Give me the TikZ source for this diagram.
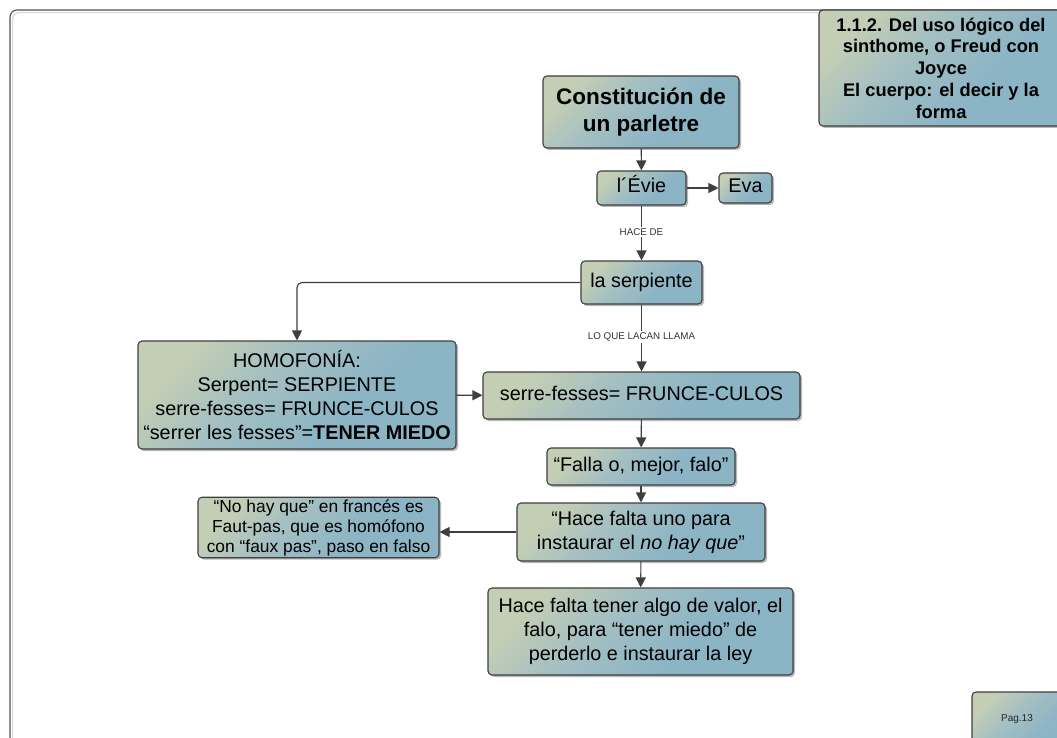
\documentclass[tikz,border=0pt]{standalone}
\usepackage{fontspec}
\setmainfont{Liberation Sans}
\usetikzlibrary{arrows.meta,shadows,positioning}

\definecolor{bxA}{HTML}{C4CEB4}
\definecolor{bxB}{HTML}{A3BFC2}
\definecolor{bxC}{HTML}{8BB4C5}
\definecolor{edge}{HTML}{3F3F3F}
\definecolor{frameline}{HTML}{505050}

% diagonal wash: pale green top-left corner fading to blue-grey
\pgfdeclarehorizontalshading{boxwash}{100bp}{%
  color(0bp)=(bxA); color(25bp)=(bxA); color(42bp)=(bxB);
  color(62bp)=(bxC); color(100bp)=(bxC)}

\tikzset{
  card/.style={
    draw=edge, line width=1.1pt, rounded corners=4pt,
    shading=boxwash, shading angle=-45,
    drop shadow={shadow xshift=2pt, shadow yshift=-2pt,
                 fill=black, opacity=0.28},
    align=center, inner sep=2pt, text=black},
  body/.style={font=\fontsize{19.8}{24}\selectfont},
  oneline/.style={text height=14.5pt, text depth=4.5pt},
  flow/.style={draw=edge, line width=1.1pt,
               -{Triangle[length=10pt,width=10pt]}},
  tag/.style={fill=white, inner sep=1.5pt,
              font=\fontsize{9.8}{11}\selectfont, text=black!80}
}

\begin{document}
\begin{tikzpicture}[x=1pt,y=-1pt]
\clip (0,0) rectangle (1057,738);
\fill[white] (0,0) rectangle (1057,738);

% page frame
\draw[black!15, line width=1.2pt, rounded corners=7pt]
  (12.5,12.5) rectangle (1085,765);
\draw[frameline, line width=1.1pt, rounded corners=7pt]
  (10,10) rectangle (1083,763);

% heading card
\node[card, minimum width=244pt, minimum height=116pt,
      font=\bfseries\fontsize{18.3}{21.8}\selectfont]
  (head) at (941,68)
  {1.1.2. Del uso lógico del\\sinthome, o Freud con\\Joyce\\El cuerpo: el decir y la\\forma};

% main column
\node[card, minimum width=196pt, minimum height=72pt,
      font=\bfseries\fontsize{22.5}{26.5}\selectfont]
  (const) at (641,112) {Constitución de\\un parletre};
\node[card, body, oneline, minimum width=89pt, minimum height=34pt]
  (evie) at (641.5,188) {l´Évie};
\node[card, body, oneline, minimum width=53pt, minimum height=30pt]
  (eva) at (745.5,188) {Eva};
\node[card, body, oneline, minimum width=121pt, minimum height=43pt]
  (serp) at (641.5,282.5) {la serpiente};
\node[card, body, minimum width=318pt, minimum height=108pt]
  (homo) at (297,395)
  {HOMOFONÍA:\\Serpent= SERPIENTE\\serre-fesses= FRUNCE-CULOS\\“serrer les fesses”=\textbf{TENER MIEDO}};
\node[card, body, oneline, minimum width=317pt, minimum height=47pt]
  (serre) at (641.5,395.5) {serre-fesses= FRUNCE-CULOS};
\node[card, body, oneline, minimum width=188pt, minimum height=37pt]
  (falla) at (641,466.5) {“Falla o, mejor, falo”};
\node[card, body, minimum width=248pt, minimum height=58pt]
  (uno) at (641,532) {“Hace falta uno para\\instaurar el \textit{no hay que}”};
\node[card, minimum width=241pt, minimum height=55pt,
      font=\fontsize{17.4}{20}\selectfont]
  (faut) at (318.5,527.5)
  {“No hay que” en francés es\\Faut-pas, que es homófono\\con “faux pas”, paso en falso};
\node[card, body, minimum width=305pt, minimum height=87pt]
  (tener) at (640.5,631.5)
  {Hace falta tener algo de valor, el\\falo, para “tener miedo” de\\perderlo e instaurar la ley};

% page number tab
\path[card] (972,692) rectangle (1075,760);
\node[font=\fontsize{10}{12}\selectfont, text=black!85] (pag) at (1017,719) {Pag.13};

% connectors
\draw[flow] (const) -- (evie);
\draw[flow] (evie) -- (eva);
\draw[flow] (evie) -- node[tag, pos=0.48] {HACE DE} (serp);
\draw[flow, rounded corners=5pt] (serp.west) -| (homo.north);
\draw[flow] (serp) -- node[tag, pos=0.48] {LO QUE LACAN LLAMA} (serre);
\draw[flow] (homo) -- (serre);
\draw[flow] (serre) -- (falla);
\draw[flow] (falla) -- (uno);
\draw[flow] (uno.west) -- (faut.east |- uno.west);
\draw[flow] (uno) -- (tener);
\end{tikzpicture}
\end{document}
